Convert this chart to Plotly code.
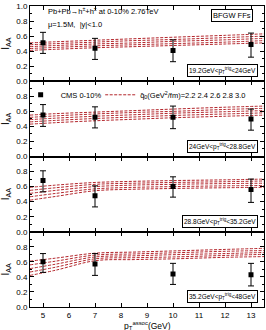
import plotly.graph_objects as go
from plotly.subplots import make_subplots

# ---- data ----
x_data = [5, 7, 10, 13]
iaa = [
    [0.51, 0.44, 0.41, 0.49],
    [0.55, 0.52, 0.52, 0.50],
    [0.68, 0.48, 0.60, 0.56],
    [0.60, 0.57, 0.44, 0.43],
]
err_up = [
    [0.14, 0.13, 0.14, 0.15],
    [0.14, 0.14, 0.15, 0.13],
    [0.13, 0.13, 0.13, 0.14],
    [0.11, 0.14, 0.14, 0.15],
]
err_dn = [
    [0.14, 0.15, 0.15, 0.17],
    [0.15, 0.14, 0.15, 0.15],
    [0.15, 0.15, 0.14, 0.17],
    [0.14, 0.15, 0.14, 0.15],
]
x_curve = [4.5, 5.5, 7, 8.5, 10, 12, 13.5]
qhat_vals = ["2.2", "2.4", "2.6", "2.8", "3.0"]
curves = [
    [  # 19.2-24
        [0.51, 0.525, 0.545, 0.565, 0.585, 0.61, 0.63],
        [0.485, 0.50, 0.52, 0.54, 0.555, 0.58, 0.60],
        [0.46, 0.475, 0.495, 0.51, 0.53, 0.55, 0.57],
        [0.435, 0.45, 0.47, 0.485, 0.50, 0.52, 0.54],
        [0.41, 0.425, 0.445, 0.46, 0.475, 0.495, 0.51],
    ],
    [  # 24-28.8
        [0.55, 0.57, 0.59, 0.61, 0.63, 0.655, 0.67],
        [0.52, 0.54, 0.565, 0.585, 0.60, 0.625, 0.64],
        [0.49, 0.51, 0.535, 0.555, 0.575, 0.595, 0.61],
        [0.46, 0.48, 0.505, 0.525, 0.545, 0.565, 0.58],
        [0.43, 0.45, 0.475, 0.495, 0.515, 0.535, 0.55],
    ],
    [  # 28.8-35.2
        [0.59, 0.62, 0.655, 0.67, 0.68, 0.69, 0.70],
        [0.55, 0.585, 0.63, 0.645, 0.655, 0.665, 0.675],
        [0.51, 0.55, 0.60, 0.62, 0.63, 0.64, 0.645],
        [0.465, 0.51, 0.57, 0.59, 0.60, 0.61, 0.615],
        [0.42, 0.47, 0.545, 0.565, 0.575, 0.585, 0.59],
    ],
    [  # 35.2-48
        [0.61, 0.65, 0.715, 0.73, 0.745, 0.765, 0.78],
        [0.56, 0.61, 0.69, 0.705, 0.72, 0.74, 0.75],
        [0.51, 0.57, 0.665, 0.68, 0.695, 0.71, 0.725],
        [0.465, 0.53, 0.64, 0.655, 0.665, 0.685, 0.70],
        [0.42, 0.49, 0.615, 0.63, 0.64, 0.66, 0.67],
    ],
]
trig_labels = [
    "19.2GeV<p<sub>T</sub><sup>trig</sup><24GeV",
    "24GeV<p<sub>T</sub><sup>trig</sup><28.8GeV",
    "28.8GeV<p<sub>T</sub><sup>trig</sup><35.2GeV",
    "35.2GeV<p<sub>T</sub><sup>trig</sup><48GeV",
]
x_ticks = [5, 6, 7, 8, 9, 10, 11, 12, 13]

RED = "#b3262c"
FONT = "Liberation Sans"

fig = make_subplots(rows=4, cols=1, shared_xaxes=True, vertical_spacing=0)

for i in range(4):
    r = i + 1
    for k, c in enumerate(curves[i]):
        fig.add_trace(go.Scatter(
            x=x_curve, y=c, mode="lines", line=dict(color=RED, width=1, dash="3px,1.5px", shape="spline"),
            name="q̂<sub>0</sub>(GeV<sup>2</sup>/fm)=" + " ".join(qhat_vals),
            showlegend=(i == 1 and k == 0), legend="legend2",
        ), row=r, col=1)
    fig.add_trace(go.Scatter(
        x=x_data, y=iaa[i], mode="markers",
        marker=dict(symbol="square", size=5, color="black"),
        error_y=dict(type="data", symmetric=False, array=err_up[i], arrayminus=err_dn[i],
                     color="black", thickness=1, width=3),
        name="CMS 0-10%", showlegend=(i == 1), legend="legend",
    ), row=r, col=1)

for i in range(4):
    r = i + 1
    tv = [0, 0.2, 0.4, 0.6, 0.8, 1.0] if i == 0 else [0, 0.2, 0.4, 0.6, 0.8]
    fig.update_yaxes(
        range=[0, 1.0], tickvals=tv, ticktext=["%.1f" % v for v in tv],
        ticks="inside", ticklen=4, tickwidth=1, tickcolor="black",
        minor=dict(dtick=0.1, ticks="inside", ticklen=2, tickcolor="black"),
        showline=True, linecolor="black", linewidth=1, mirror="ticks",
        showgrid=False, zeroline=False, automargin=False,
        title=dict(text="I<sub>AA</sub>", standoff=4, font=dict(size=10)),
        tickfont=dict(size=8), row=r, col=1)
    fig.update_xaxes(
        range=[4.5, 13.5], tickvals=x_ticks,
        ticks="inside", ticklen=4, tickwidth=1, tickcolor="black",
        showline=True, linecolor="black", linewidth=1, mirror="ticks",
        showgrid=False, zeroline=False, showticklabels=(i == 3), automargin=False,
        tickfont=dict(size=8), row=r, col=1)

ann = []
yrefs = ["y domain", "y2 domain", "y3 domain", "y4 domain"]
for i in range(4):
    ann.append(dict(xref="x domain", yref=yrefs[i], x=0.975, y=0.05, xanchor="right", yanchor="bottom",
                    text=trig_labels[i], showarrow=False, font=dict(size=6.5),
                    bordercolor="black", borderwidth=1, borderpad=1, bgcolor="white"))
ann.append(dict(xref="x domain", yref="y domain", x=0.07, y=0.93, xanchor="left", yanchor="middle",
                text="Pb+Pb→h<sup>±</sup>+h<sup>±</sup> at 0-10% 2.76TeV", showarrow=False, font=dict(size=7.5)))
ann.append(dict(xref="x domain", yref="y domain", x=0.07, y=0.76, xanchor="left", yanchor="middle",
                text="μ=1.5M,  |y|<1.0", showarrow=False, font=dict(size=7.5)))
ann.append(dict(xref="x domain", yref="y domain", x=0.955, y=0.87, xanchor="right", yanchor="middle",
                text="BFGW FFs", showarrow=False, font=dict(size=7.5),
                bordercolor="black", borderwidth=1, borderpad=1, bgcolor="white"))
ann.append(dict(xref="x domain", yref="paper", x=0.5, y=-0.0764, xanchor="center", yanchor="bottom",
                yshift=-2, text="p<sub>T</sub><sup>assoc</sup>(GeV)", showarrow=False, font=dict(size=8.5),
                borderpad=0))

fig.update_layout(
    width=266, height=330,
    margin=dict(l=30, r=2, t=6, b=23, autoexpand=False),
    plot_bgcolor="white", paper_bgcolor="white",
    font=dict(family=FONT, size=8, color="black"),
    annotations=ann,
    legend=dict(orientation="h", x=-0.04, y=0.705, xanchor="left", yanchor="middle",
                font=dict(size=7.5), bgcolor="rgba(0,0,0,0)", itemwidth=30),
    legend2=dict(orientation="h", x=0.30, y=0.705, xanchor="left", yanchor="middle",
                 font=dict(size=7.5), bgcolor="rgba(0,0,0,0)", itemwidth=30),
    showlegend=True,
)

fig.write_html("out.html", config={"displayModeBar": False},
               post_script="document.body.style.margin='0';")
